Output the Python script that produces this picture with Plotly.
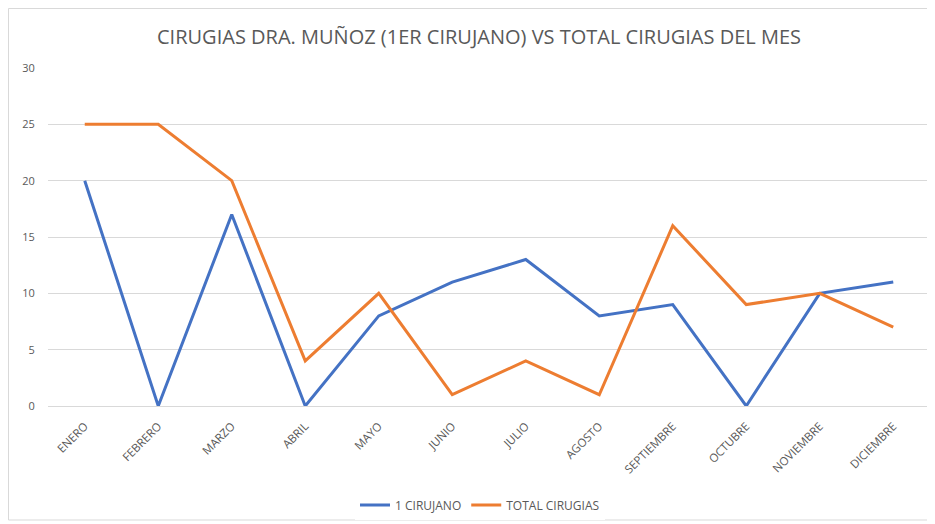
import plotly.graph_objects as go

meses = ["ENERO", "FEBRERO", "MARZO", "ABRIL", "MAYO", "JUNIO", "JULIO",
         "AGOSTO", "SEPTIEMBRE", "OCTUBRE", "NOVIEMBRE", "DICIEMBRE"]
cirujano_1 = [20, 0, 17, 0, 8, 11, 13, 8, 9, 0, 10, 11]
total_cirugias = [25, 25, 20, 4, 10, 1, 4, 1, 16, 9, 10, 7]
y_ticks = [0, 5, 10, 15, 20, 25, 30]

fig = go.Figure()
fig.add_trace(go.Scatter(x=meses, y=cirujano_1, mode="lines", name="1 CIRUJANO",
                         line=dict(color="#4472C4", width=3)))
fig.add_trace(go.Scatter(x=meses, y=total_cirugias, mode="lines", name="TOTAL CIRUGIAS",
                         line=dict(color="#ED7D31", width=3)))

# page body has an 8px offset, so figure is 927x516 with margins shifted
FW, FH = 927, 516
L, R, T, B = 40, 5, 60, 118
W = FW - L - R
H = FH - T - B
fig.update_layout(
    width=FW, height=FH,
    paper_bgcolor="white", plot_bgcolor="white",
    margin=dict(l=L, r=R, t=T, b=B, autoexpand=False),
    font=dict(family="Open Sans, Liberation Sans, sans-serif", color="#595959", size=11),
    title=dict(text="CIRUGIAS DRA. MUÑOZ (1ER CIRUJANO) VS TOTAL CIRUGIAS DEL MES",
               x=471 / FW, xanchor="center", y=1 - 29 / FH, yanchor="middle",
               font=dict(size=20, color="#595959")),
    showlegend=True,
    legend=dict(orientation="h", x=(472 - L) / W, xanchor="center", y=-99 / H,
                yanchor="middle", font=dict(size=12, color="#595959")),
    xaxis=dict(type="category", tickangle=-45, showgrid=False, showline=False,
               automargin=False, ticks="outside", ticklen=8, tickcolor="rgba(0,0,0,0)",
               range=[-0.5, 11.5], tickfont=dict(size=11.5, color="#595959")),
    yaxis=dict(range=[0, 30], tickvals=y_ticks, showgrid=True, gridcolor="#D9D9D9",
               gridwidth=1, zeroline=True, zerolinecolor="#D9D9D9", zerolinewidth=1,
               automargin=False, showline=False, ticks="outside", ticklen=10,
               tickcolor="rgba(0,0,0,0)", tickfont=dict(size=11, color="#595959")),
    shapes=[dict(type="rect", xref="paper", yref="paper",
                 x0=(0.5 - L) / W, x1=1 + 2 / W, y0=-(FH - 4 - T - H) / H, y1=1 + (T - 0.5) / H,
                 line=dict(color="#D9D9D9", width=1))],
)

fig.write_html("out.html")
